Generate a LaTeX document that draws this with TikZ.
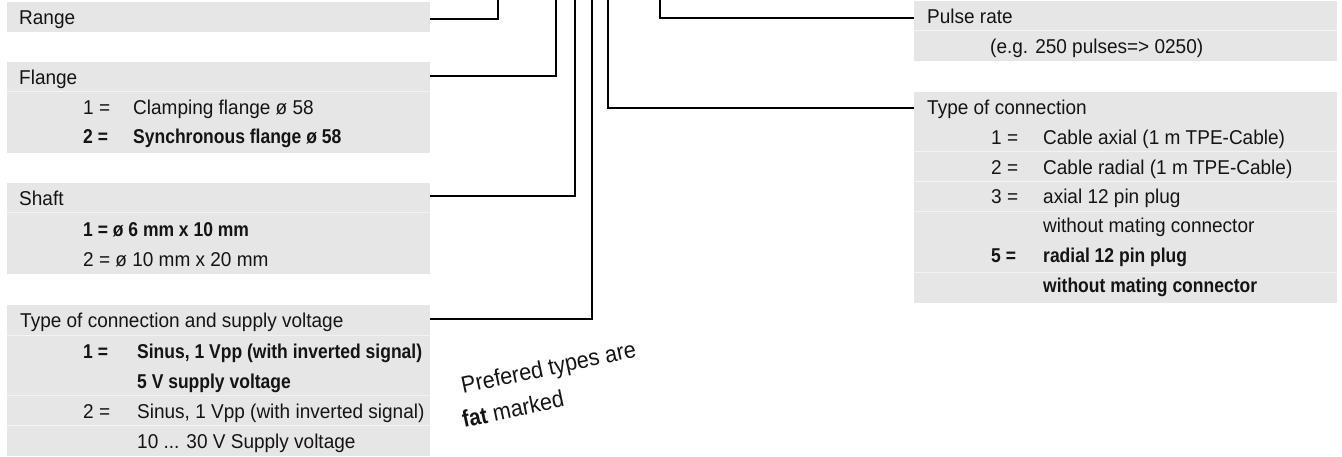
\documentclass[tikz,border=0pt]{standalone}
\usepackage{fontspec}
\setmainfont{Liberation Sans}[FakeStretch=0.95]
\newfontfamily\fatfont{Liberation Sans}[FakeStretch=0.875]
\newfontfamily\notefont{Liberation Sans}[FakeStretch=0.92]
\definecolor{boxgray}{HTML}{E6E6E6}
\definecolor{sepgray}{HTML}{F3F3F3}
\definecolor{inkc}{HTML}{141414}
\begin{document}
\begin{tikzpicture}[x=1pt,y=-1pt,
  box/.style={fill=boxgray, draw=none, anchor=north west, inner sep=0pt, outer sep=0pt, minimum width=423pt},
  hrow/.style={draw=none, anchor=north west, inner sep=0pt, outer sep=0pt, minimum width=423pt, minimum height=30pt},
  txt/.style={anchor=base west, inner sep=0pt, text=inkc, font=\fontsize{20}{23}\selectfont},
  fat/.style={anchor=base west, inner sep=0pt, text=inkc, font=\fontsize{20}{23}\fatfont\bfseries},
  sep/.style={draw=sepgray, line width=1pt},
  conn/.style={draw=black, line width=2.6pt},
  note/.style={anchor=base west, inner sep=0pt, text=inkc, rotate=12, font=\fontsize{23.5}{27}\notefont}
]
\useasboundingbox (0,0) rectangle (1342,457);

% ---------- left: Range ----------
\node[box, minimum height=30pt] (rangeB) at (7,2) {};
\node[hrow] (rangeH) at (7,2) {};
\node[txt] (rangeT) at (19,25) {Range};

% ---------- left: Flange ----------
\node[box, minimum height=91pt] (flangeB) at (7,62) {};
\node[hrow] (flangeH) at (7,62) {};
\draw[sep] (flangeH.south west) -- (flangeH.south east);
\node[txt] (flangeT) at (19,85) {Flange};
\node[txt] (flange1n) at (83,115) {1 =};
\node[txt] (flange1t) at (133,115) {Clamping flange ø 58};
\node[fat] (flange2n) at (83,144) {2 =};
\node[fat] (flange2t) at (133,144) {Synchronous flange ø 58};

% ---------- left: Shaft ----------
\node[box, minimum height=91pt] (shaftB) at (7,183) {};
\node[hrow] (shaftH) at (7,183) {};
\draw[sep] (shaftH.south west) -- (shaftH.south east);
\node[txt] (shaftT) at (19,206) {Shaft};
\node[fat] (shaft1) at (83,237) {1 = ø 6 mm x 10 mm};
\node[txt] (shaft2) at (83,267) {2 = ø 10 mm x 20 mm};

% ---------- left: Type of connection and supply voltage ----------
\node[box, minimum height=151pt] (typeB) at (7,305) {};
\node[hrow] (typeH) at (7,305) {};
\draw[sep] (typeH.south west) -- (typeH.south east);
\draw[sep] ([yshift=-90pt]typeB.north west) -- ([yshift=-90pt]typeB.north east);
\draw[sep] ([yshift=-120pt]typeB.north west) -- ([yshift=-120pt]typeB.north east);
\node[txt] (typeT) at (20,327) {Type of connection and supply voltage};
\node[fat] (type1n) at (83,358) {1 =};
\node[fat] (type1t) at (137,358) {Sinus, 1 Vpp (with inverted signal)};
\node[fat] (type1u) at (137,388) {5 V supply voltage};
\node[txt] (type2n) at (83,418) {2 =};
\node[txt] (type2t) at (137,418) {Sinus, 1 Vpp (with inverted signal)};
\node[txt] (type2u) at (137,448) {10 ... 30 V Supply voltage};

% ---------- right: Pulse rate ----------
\node[box, minimum height=60pt] (pulseB) at (914,1) {};
\node[hrow] (pulseH) at (914,1) {};
\draw[sep] (pulseH.south west) -- (pulseH.south east);
\node[txt] (pulseT) at (927,24) {Pulse rate};
\node[txt] (pulseE) at (990,54) {(e.g. 250 pulses=> 0250)};

% ---------- right: Type of connection ----------
\node[box, minimum height=211pt] (tcB) at (914,92) {};
\node[hrow] (tcH) at (914,92) {};
\draw[sep] ([yshift=-60pt]tcB.north west) -- ([yshift=-60pt]tcB.north east);
\draw[sep] ([yshift=-90pt]tcB.north west) -- ([yshift=-90pt]tcB.north east);
\draw[sep] ([yshift=-120pt]tcB.north west) -- ([yshift=-120pt]tcB.north east);
\draw[sep] ([yshift=-181pt]tcB.north west) -- ([yshift=-181pt]tcB.north east);
\node[txt] (tcT) at (927,115) {Type of connection};
\node[txt] (tc1n) at (991,145) {1 =};
\node[txt] (tc1t) at (1043,145) {Cable axial (1 m TPE-Cable)};
\node[txt] (tc2n) at (991,175) {2 =};
\node[txt] (tc2t) at (1043,175) {Cable radial (1 m TPE-Cable)};
\node[txt] (tc3n) at (991,204) {3 =};
\node[txt] (tc3t) at (1043,204) {axial 12 pin plug};
\node[txt] (tc3u) at (1043,233) {without mating connector};
\node[fat] (tc5n) at (991,263) {5 =};
\node[fat] (tc5t) at (1043,263) {radial 12 pin plug};
\node[fat] (tc5u) at (1043,293) {without mating connector};

% ---------- connectors ----------
\coordinate (rangeTop) at (498,-4);
\coordinate (flangeTop) at (556,-4);
\coordinate (shaftTop) at (575,-4);
\coordinate (typeTop) at (592,-4);
\coordinate (tcTop) at (608,-4);
\coordinate (pulseTop) at (660,-4);
\draw[conn] ([yshift=-2pt]rangeH.east) -| (rangeTop);
\draw[conn] ([yshift=1pt]flangeH.east) -| (flangeTop);
\draw[conn] ([yshift=2pt]shaftH.east) -| (shaftTop);
\draw[conn] ([yshift=1pt]typeH.east) -| (typeTop);
\draw[conn] ([yshift=-1pt]tcH.west) -| (tcTop);
\draw[conn] ([yshift=-2pt]pulseH.west) -| (pulseTop);

% ---------- note ----------
\node[note] (pref1) at (463,394) {Prefered types are};
\node[note] (pref2) at (464,428) {{\fatfont\bfseries fat} marked};
\end{tikzpicture}
\end{document}
